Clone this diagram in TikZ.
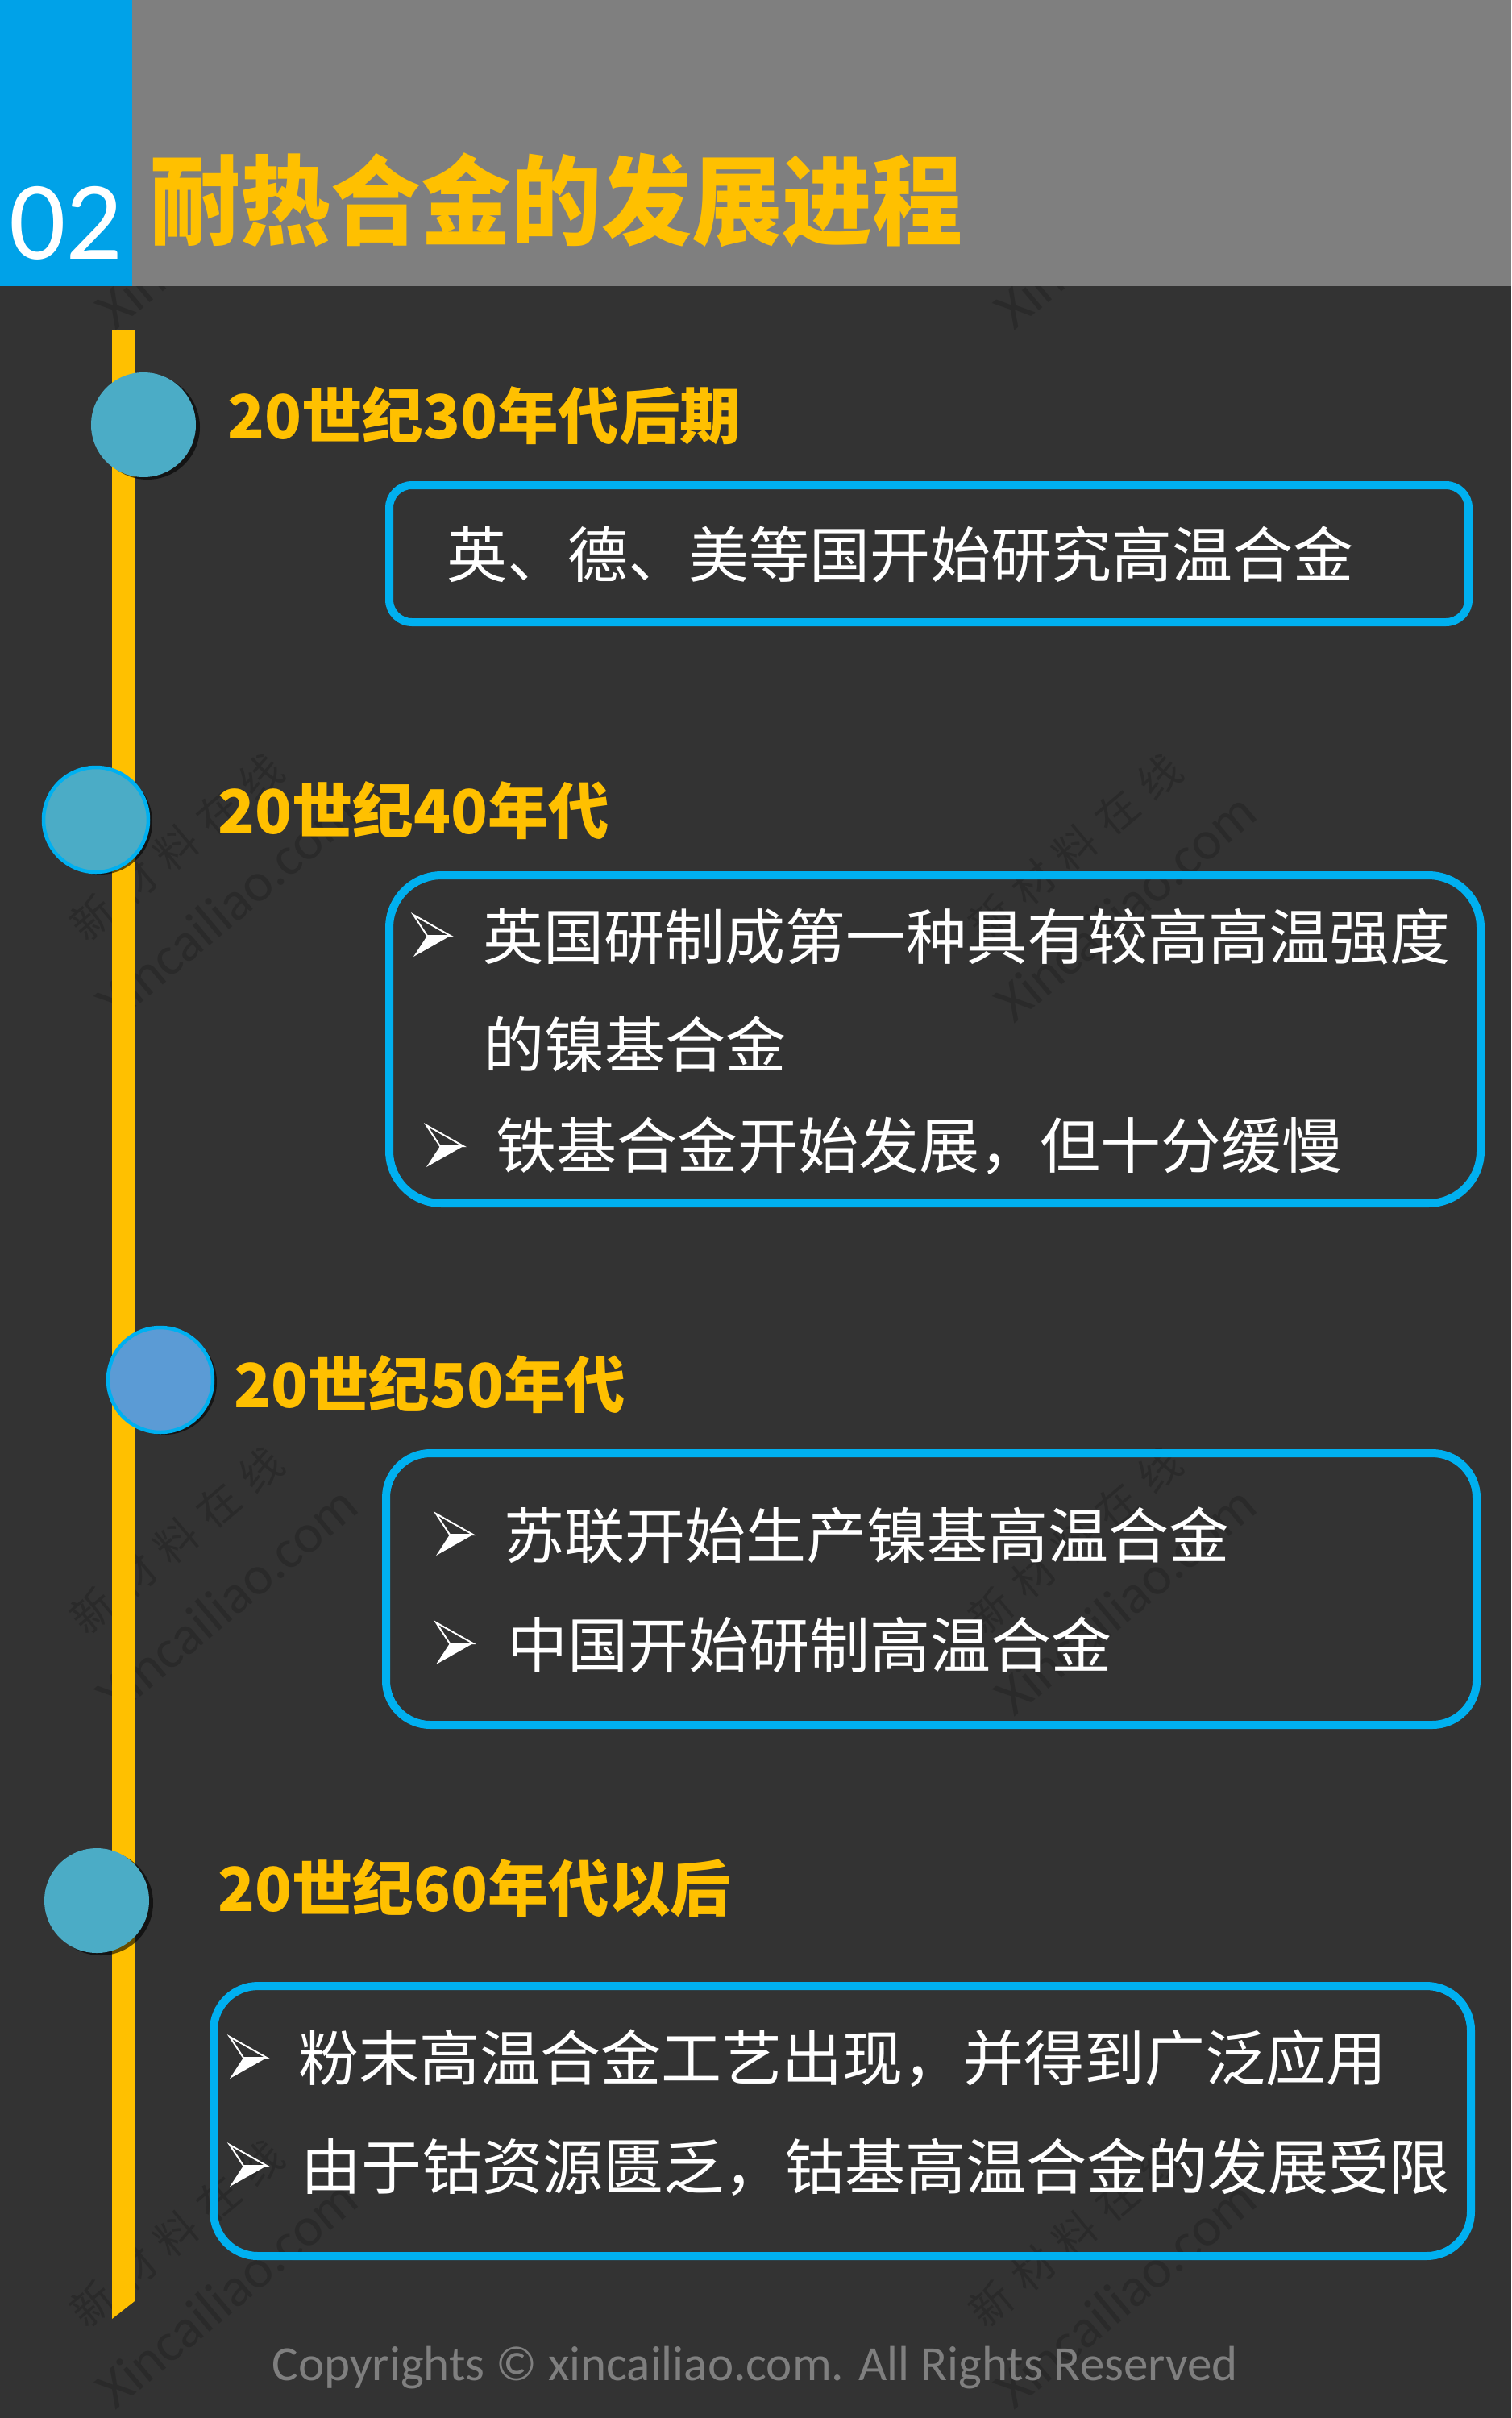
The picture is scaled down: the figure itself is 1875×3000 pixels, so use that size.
\documentclass[tikz,border=0pt]{standalone}
\usepackage{fontspec}
\newfontfamily\cjk{Noto Sans CJK SC}
\newfontfamily\lat{Carlito}
\definecolor{bg}{HTML}{333333}
\definecolor{hdrgray}{HTML}{7F7F7F}
\definecolor{hdrblue}{HTML}{00A2E8}
\definecolor{ylw}{HTML}{FFC000}
\definecolor{boxblue}{HTML}{00B0F0}
\definecolor{teal}{HTML}{4BACC6}
\definecolor{sky}{HTML}{5B9BD5}
\definecolor{wm}{HTML}{2A2A2A}
\definecolor{foot}{HTML}{7F7F7F}
\tikzset{
  hdr/.style={anchor=west, inner sep=0pt, text=ylw, font=\cjk\bfseries\fontsize{75.5}{80}\selectfont},
  body/.style={anchor=west, inner sep=0pt, text=white, font=\cjk\fontsize{75}{80}\selectfont},
  box/.style={draw=boxblue, line width=10pt, fill=none, inner sep=0pt},
  dot/.style={circle, minimum size=130pt, inner sep=0pt},
  shadow/.style={circle, minimum size=130pt, inner sep=0pt, fill=black, opacity=0.6},
  wmark/.style={rotate=40, align=center, inner sep=0pt, text=wm},
  arrowbul/.pic={
    \draw[white, line width=2pt, line join=miter] (0,0) -- (46,26) -- (17,26) -- cycle;
    \fill[white] (17,26) -- (46,26) -- (0,52) -- cycle;
  }
}
\newcommand{\wmtext}{{\cjk\fontsize{52}{100}\selectfont 新\hspace{16pt}材\hspace{16pt}料\hspace{16pt}在\hspace{16pt}线}\\{\lat\fontsize{68}{100}\selectfont Xincailiao.com}}
\begin{document}
\begin{tikzpicture}[x=1pt, y=-1pt]
\useasboundingbox (0,0) rectangle (1875,3000);
\fill[bg] (0,0) rectangle (1875,3000);
% watermarks
\foreach \wx/\wy [count=\i] in {250/228, 1365/228, 250/1088, 1365/1088, 250/1948, 1365/1948, 250/2808, 1365/2808}
  \node[wmark, font=\fontsize{68}{100}\selectfont] (wm\i) at (\wx,\wy) {\wmtext};
% header
\fill[hdrgray] (0,0) rectangle (1875,355);
\fill[hdrblue] (0,0) rectangle (164,355);
\node[anchor=west, inner sep=0pt, text=white, font=\lat\fontsize{139}{140}\selectfont] (num) at (11,277) {02};
\node[anchor=west, inner sep=0pt, text=ylw, font=\cjk\bfseries\fontsize{112}{120}\selectfont] (title) at (186,248) {\scalebox{1}[1.08]{耐热合金的发展进程}};
% timeline bar
\fill[ylw] (139,409) -- (167,409) -- (167,2855) -- (139,2877) -- cycle;
% circles
\node[shadow] (s1) at (183,530) {};
\node[dot, fill=teal] (c1) at (178,527) {};
\node[shadow] (s2) at (124,1020) {};
\node[dot, fill=teal, draw=boxblue, line width=4.5pt] (c2) at (119,1017) {};
\node[shadow] (s3) at (204,1715) {};
\node[dot, fill=sky, draw=boxblue, line width=4.5pt] (c3) at (199,1712) {};
\node[shadow] (s4) at (125,2361) {};
\node[dot, fill=teal] (c4) at (120,2358) {};
% headings
\node[hdr] (h1) at (282,516) {20世纪30年代后期};
\node[hdr] (h2) at (270,1006) {20世纪40年代};
\node[hdr] (h3) at (290,1718) {20世纪50年代};
\node[hdr] (h4) at (270,2343) {20世纪60年代以后};
% boxes
\node[box, rounded corners=28pt, minimum width=1339pt, minimum height=170pt] (b1) at (1152.5,687) {};
\node[box, rounded corners=65pt, minimum width=1354pt, minimum height=407pt] (b2) at (1160,1289.5) {};
\node[box, rounded corners=55pt, minimum width=1353pt, minimum height=337pt] (b3) at (1155.5,1971.5) {};
\node[box, rounded corners=55pt, minimum width=1560pt, minimum height=335pt] (b4) at (1045,2631.5) {};
% box texts
\node[body] (t1) at (554,688) {英、德、美等国开始研究高温合金};
\pic (u21) at (513,1135) {arrowbul};
\node[body] (t21) at (599,1162) {英国研制成第一种具有较高高温强度};
\node[body] (t22) at (600,1296) {的镍基合金};
\pic (u23) at (529,1396) {arrowbul};
\node[body] (t23) at (615,1422) {铁基合金开始发展，但十分缓慢};
\pic (u31) at (541,1878) {arrowbul};
\node[body] (t31) at (625,1905) {苏联开始生产镍基高温合金};
\pic (u32) at (541,2013) {arrowbul};
\node[body] (t32) at (629,2041) {中国开始研制高温合金};
\pic (u41) at (285,2527) {arrowbul};
\node[body] (t41) at (370,2554) {粉末高温合金工艺出现，并得到广泛应用};
\pic (u42) at (285,2661) {arrowbul};
\node[body] (t42) at (373,2689) {由于钴资源匮乏，钴基高温合金的发展受限};
% footer
\node[anchor=base, inner sep=0pt, text=foot, font=\lat\fontsize{61}{61}\selectfont] (ft) at (937,2953) {Copyrights © xincailiao.com. All Rights Reserved};
\end{tikzpicture}
\end{document}
